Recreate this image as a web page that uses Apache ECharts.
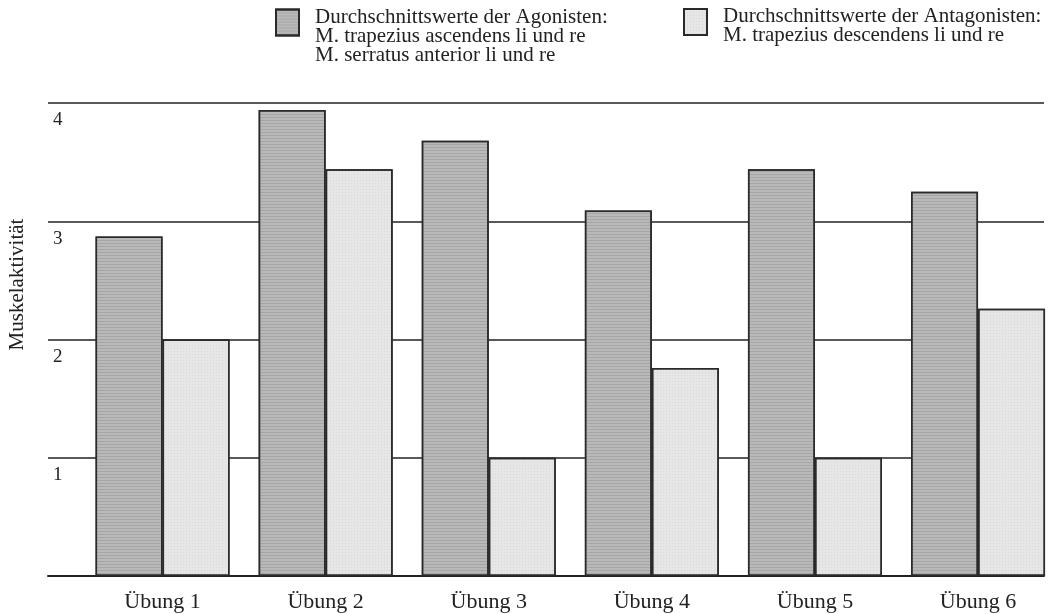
<!DOCTYPE html>
<html>
<head>
<meta charset="utf-8">
<script src="https://cdn.jsdelivr.net/npm/echarts@6/dist/echarts.min.js"></script>
<style>html,body{margin:0;padding:0;background:#fff;}#c{width:1049px;height:614px;}</style>
</head>
<body>
<div id="c"></div>
<script>
const categories = ['Übung 1', 'Übung 2', 'Übung 3', 'Übung 4', 'Übung 5', 'Übung 6'];
const agonisten = [2.87, 3.94, 3.68, 3.09, 3.44, 3.25];
const antagonisten = [2.0, 3.44, 1.0, 1.76, 1.0, 2.26];
const yTicks = [0, 1, 2, 3, 4];
const seriesNames = ['Durchschnittswerte der Agonisten:', 'Durchschnittswerte der Antagonisten:'];
const legendLines = {
  'Durchschnittswerte der Agonisten:': ['Durchschnittswerte der Agonisten:', 'M. trapezius ascendens li und re', 'M. serratus anterior li und re'],
  'Durchschnittswerte der Antagonisten:': ['Durchschnittswerte der Antagonisten:', 'M. trapezius descendens li und re']
};
const yName = 'Muskelaktivität';

const FONT = 'Liberation Serif';
const INK = '#222';
const chart = echarts.init(document.getElementById('c'), null, {renderer: 'canvas'});
function legendStyle(pad) {
  return {fontFamily: FONT, fontSize: 21, color: INK, lineHeight: 19, padding: [0, 0, 0, 11],
    rich: {p: {fontSize: 2, lineHeight: pad, height: pad}, t: {fontFamily: FONT, fontSize: 21, color: INK, lineHeight: 19}}};
}
const legendFmt = n => '{p| }\n' + legendLines[n].map(s => '{t|' + s + '}').join('\n');
chart.setOption({
  backgroundColor: '#fff',
  animation: false,
  legend: [
    {data: [seriesNames[0]], left: 270, top: -25, itemWidth: 23, itemHeight: 26, itemGap: 0,
     icon: 'rect', selectedMode: false, textStyle: legendStyle(28), formatter: legendFmt},
    {data: [seriesNames[1]], left: 678, top: -6, itemWidth: 23, itemHeight: 26, itemGap: 0,
     icon: 'rect', selectedMode: false, textStyle: legendStyle(8), formatter: legendFmt}
  ],
  grid: [
    {left: 48, right: 5, top: 103, bottom: 38, outerBoundsMode: 'none'},
    {left: 81, width: 978.6, top: 103, bottom: 38, outerBoundsMode: 'none'}
  ],
  xAxis: [
    {gridIndex: 0, type: 'category', data: categories, show: true,
     axisLine: {show: true, lineStyle: {color: INK, width: 2}},
     axisTick: {show: false}, axisLabel: {show: false}, splitLine: {show: false}},
    {gridIndex: 1, type: 'category', data: categories,
     axisLine: {show: false}, axisTick: {show: false},
     axisLabel: {fontFamily: FONT, fontSize: 22, color: INK, margin: 15}}
  ],
  yAxis: [
    {gridIndex: 0, type: 'value', min: yTicks[0], max: yTicks[yTicks.length - 1], interval: 1,
     name: yName, nameLocation: 'middle', nameGap: 20, nameRotate: 90,
     nameTextStyle: {fontFamily: FONT, fontSize: 21, color: INK, padding: [0, 0, 0, 110]},
     axisLine: {show: false}, axisTick: {show: false},
     axisLabel: {inside: true, margin: 5, verticalAlign: 'top', padding: [8, 0, 0, 0],
       fontFamily: FONT, fontSize: 19, color: INK,
       formatter: v => v === 0 ? '' : String(v)},
     splitLine: {show: true, lineStyle: {color: INK, width: 1.5}}},
    {gridIndex: 1, type: 'value', min: yTicks[0], max: yTicks[yTicks.length - 1], interval: 1,
     show: false, splitLine: {show: false}}
  ],
  series: [
    {name: seriesNames[0], type: 'bar', xAxisIndex: 1, yAxisIndex: 1, data: agonisten,
     barWidth: 67, barGap: '0%',
     itemStyle: {color: '#b9b9b9', borderColor: '#2a2a2a', borderWidth: 1.5,
       decal: {symbol: 'rect', symbolSize: 1, dashArrayX: [1, 0], dashArrayY: [1, 2], color: 'rgba(0,0,0,0.10)'}}},
    {name: seriesNames[1], type: 'bar', xAxisIndex: 1, yAxisIndex: 1, data: antagonisten,
     barWidth: 67, barGap: '0%',
     itemStyle: {color: '#e6e6e6', borderColor: '#2a2a2a', borderWidth: 1.5,
       decal: {symbol: 'rect', symbolSize: 1, dashArrayX: [1, 2], dashArrayY: [1, 2], color: 'rgba(0,0,0,0.06)'}}}
  ]
});
</script>
</body>
</html>
